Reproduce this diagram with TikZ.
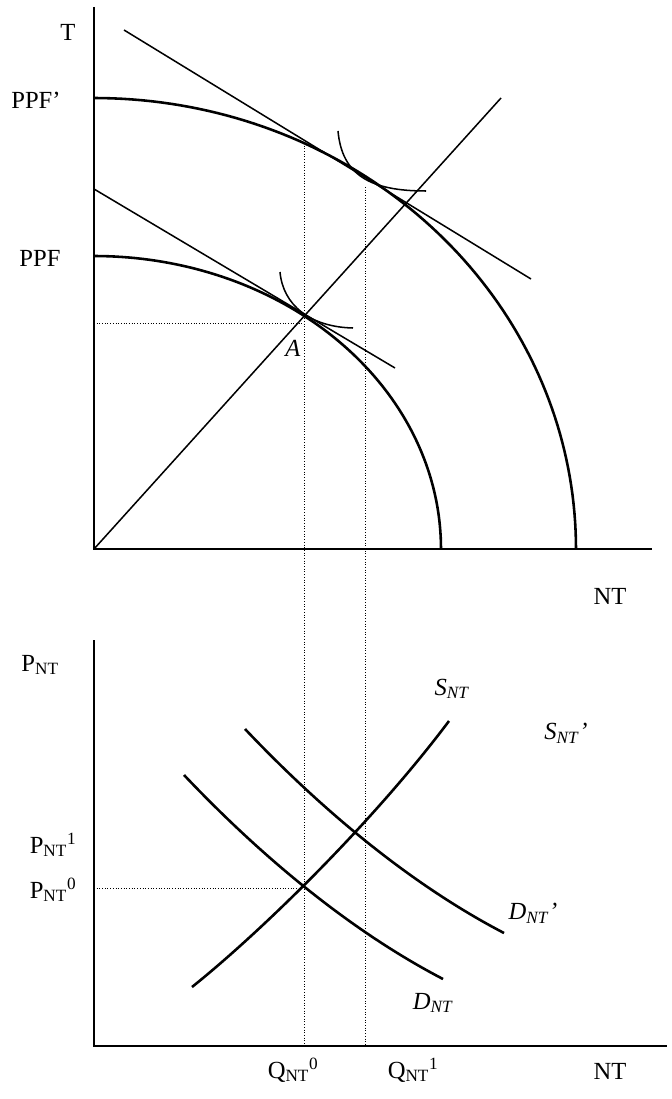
\documentclass[tikz,border=0pt]{standalone}
\usepackage{fontspec}
\setmainfont{Liberation Serif}
\usepackage{tikz}

\begin{document}
\begin{tikzpicture}[x=0.03cm, y=-0.03cm,
    axis/.style={line width=1.5pt},
    curve/.style={line width=2.2pt},
    thincurve/.style={line width=1.3pt},
    guide/.style={line width=0.8pt, dash pattern=on 0.8pt off 1.5pt},
    lbl/.style={font=\fontsize{21}{25}\selectfont, inner sep=0pt}]
    \useasboundingbox (0,0) rectangle (671,1099);

    % Top panel: axes
    \coordinate (o1) at (94,549);
    \coordinate (t1) at (94,7);
    \coordinate (x1) at (652,549);
    \draw[axis] (t1) -- (o1) -- (x1);

    % PPF and PPF'
    \draw[curve] plot[domain=90:0, samples=80, variable=\t] ({94+347*cos(\t)}, {549-293*sin(\t)});
    \draw[curve] plot[domain=90:0, samples=80, variable=\t] ({94+482*cos(\t)}, {549-451*sin(\t)});

    % Ray and price lines
    \coordinate (r1) at (501,98);
    \coordinate (b1) at (124,30);
    \coordinate (b2) at (531,279);
    \coordinate (c1) at (94,189);
    \coordinate (c2) at (395,368);
    \draw[thincurve] (o1) -- (r1);
    \draw[thincurve] (b1) -- (b2);
    \draw[thincurve] (c1) -- (c2);

    % Indifference curves
    \draw[thincurve] (280,272) .. controls (283,305) and (310,327) .. (353,328);
    \draw[thincurve] (338,131) .. controls (342,175) and (370,191) .. (426,191);

    % Dotted guides
    \coordinate (q0a) at (304,143);
    \coordinate (q0b) at (304,1046);
    \coordinate (q1a) at (365,187);
    \coordinate (q1b) at (365,1046);
    \coordinate (ya) at (94,323);
    \coordinate (yb) at (304,323);
    \coordinate (pa) at (94,888);
    \coordinate (pb) at (303,888);
    \draw[guide] (q0a) -- (q0b);
    \draw[guide] (q1a) -- (q1b);
    \draw[guide] (ya) -- (yb);
    \draw[guide] (pa) -- (pb);

    % Bottom panel: axes
    \coordinate (o2) at (94,1046);
    \coordinate (t2) at (94,640);
    \coordinate (x2) at (667,1046);
    \draw[axis] (t2) -- (o2) -- (x2);

    % Supply and demand
    \draw[curve] (192,987) .. controls (262,931) and (374,821) .. (449,721);
    \draw[curve] (184,775) .. controls (255,850) and (345,928) .. (443,979);
    \draw[curve] (245,729) .. controls (316,804) and (406,882) .. (504,933);

    % Labels
    \node[lbl] (lT) at (68,32) {T};
    \node[lbl] (lPPFp) at (36,100) {PPF’};
    \node[lbl] (lPPF) at (40,258) {PPF};
    \node[lbl] (lA) at (293,348) {\textit{A}};
    \node[lbl] (lNT1) at (610,596) {NT};
    \node[lbl] (lP) at (40,665) {P\textsubscript{NT}};
    \node[lbl] (lS) at (452,689) {\textit{S}\textsubscript{\textit{NT}}};
    \node[lbl] (lSp) at (566,733) {\textit{S}\textsubscript{\textit{NT}}\textit{’}};
    \node[lbl] (lP1) at (53,845) {P\textsubscript{NT}\textsuperscript{1}};
    \node[lbl] (lP0) at (53,890) {P\textsubscript{NT}\textsuperscript{0}};
    \node[lbl] (lDp) at (533,913) {\textit{D}\textsubscript{\textit{NT}}\textit{’}};
    \node[lbl] (lD) at (433,1003) {\textit{D}\textsubscript{\textit{NT}}};
    \node[lbl] (lQ0) at (293,1070) {Q\textsubscript{NT}\textsuperscript{0}};
    \node[lbl] (lQ1) at (413,1070) {Q\textsubscript{NT}\textsuperscript{1}};
    \node[lbl] (lNT2) at (610,1071) {NT};
\end{tikzpicture}
\end{document}
